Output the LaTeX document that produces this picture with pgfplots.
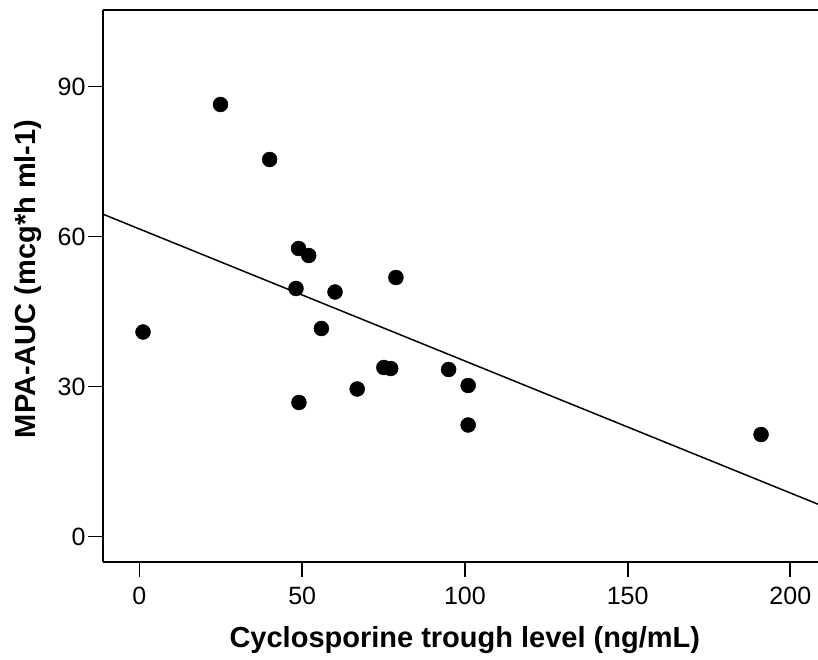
\documentclass[border=0pt]{standalone}
\usepackage{pgfplots}
\pgfplotsset{compat=1.18}
\usepackage{fontspec}
\setmainfont{Liberation Sans}
\begin{document}
\begin{tikzpicture}
\path[use as bounding box] (0,0) rectangle (818pt,660pt);
\begin{axis}[
  at={(103pt,98pt)}, anchor=south west,
  scale only axis,
  width=715pt, height=552pt,
  xmin=-11.2, xmax=208.5,
  ymin=-5.1, ymax=105.3,
  axis x line*=box,
  axis y line*=left,
  axis line style={line width=1.8pt, black},
  xtick={0,50,100,150,200},
  ytick={0,30,60,90},
  xtick pos=bottom, ytick pos=left,
  tick align=outside,
  major tick length=15pt,
  tick style={line width=1.8pt, black},
  /pgf/number format/assume math mode=true,
  tick label style={font=\fontsize{25}{30}\selectfont},
  x tick label style={yshift=-7pt},
  y tick label style={xshift=1pt},
  xlabel={\bfseries Cyclosporine trough level (ng/mL)},
  ylabel={\bfseries MPA-AUC (mcg*h ml-1)},
  label style={font=\fontsize{29}{34}\selectfont},
  x label style={at={(axis description cs:0.506,-0.141)}, anchor=center},
  y label style={at={(axis description cs:-0.105,0.513)}, anchor=center},
  clip=true,
]
\addplot[only marks, mark=*, mark size=7.5pt, mark options={fill=black, draw=black}] coordinates {
(1.1,40.9) (24.9,86.4) (40.0,75.4) (48.9,57.6) (52.0,56.2) (48.1,49.6)
(60.1,48.9) (78.8,51.8) (55.9,41.6) (75.1,33.8) (77.2,33.6) (66.9,29.5)
(49.0,26.8) (95.0,33.4) (101.0,30.2) (101.0,22.3) (191.0,20.4)
};
\addplot[black, line width=1.5pt, no marks] coordinates {(-11.2,64.46) (208.5,6.46)};
\end{axis}
\end{tikzpicture}
\end{document}
